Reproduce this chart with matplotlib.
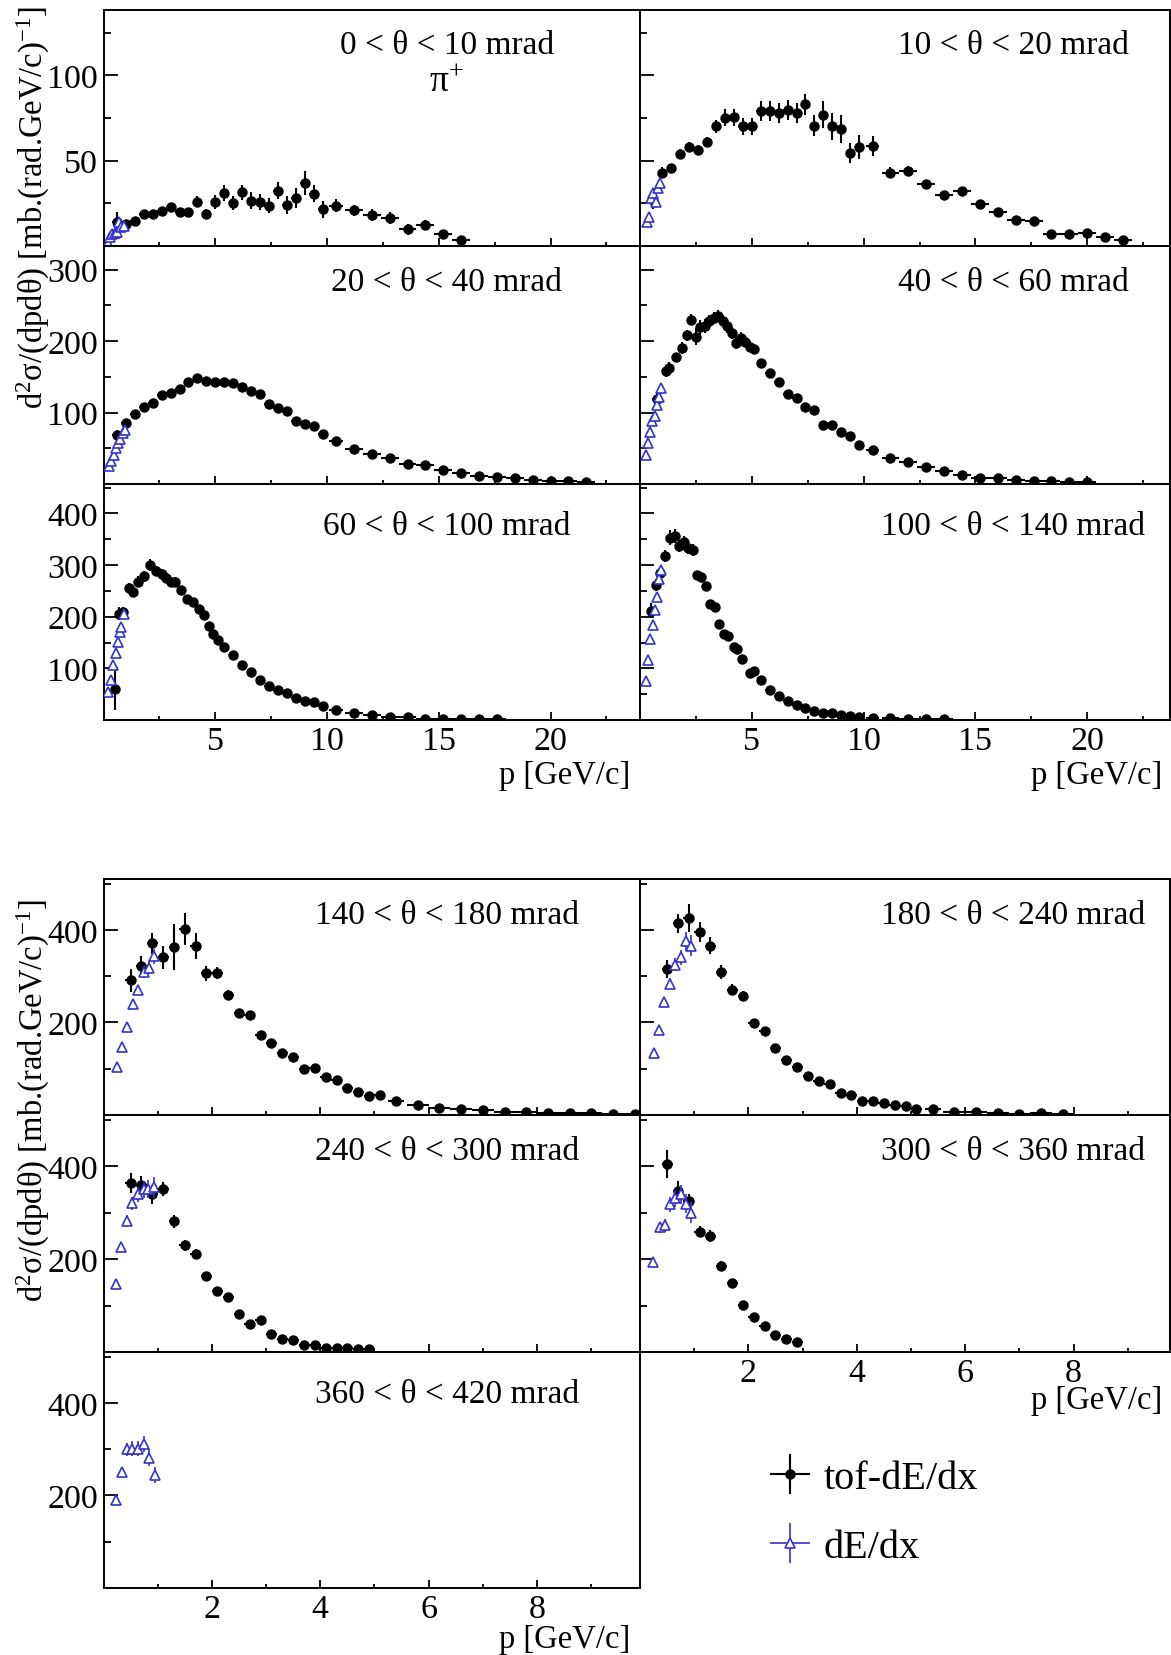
import numpy as np
import matplotlib
matplotlib.use("Agg")
import matplotlib.pyplot as plt
from matplotlib.ticker import FixedLocator

plt.rcParams["font.family"] = ["Liberation Serif", "DejaVu Serif"]
plt.rcParams["mathtext.fontset"] = "custom"
plt.rcParams["mathtext.rm"] = "Liberation Serif"
plt.rcParams["mathtext.it"] = "Liberation Serif:italic"
plt.rcParams["mathtext.bf"] = "Liberation Serif:bold"

BLUE = "#3333cc"

# ---- data: pi+ double-differential cross-section, tof-dE/dx and dE/dx analyses ----
# 0 < theta < 10 mrad
p_tof_0_10 = [0.6, 1.0, 1.4, 1.8, 2.2, 2.6, 3.0, 3.4, 3.8, 4.2, 4.6, 5.0, 5.4, 5.8, 6.2, 6.6,
              7.0, 7.4, 7.8, 8.2, 8.6, 9.0, 9.4, 9.8, 10.4, 11.2, 12.0, 12.8, 13.6, 14.4, 15.2, 16.0]
xs_tof_0_10 = [14, 13, 14.6, 18.9, 18.9, 20.4, 23, 19.8, 19.8, 26, 18.9, 25.7, 31, 25, 31.5, 26.5,
               25.7, 23.7, 32.5, 24, 28, 37, 30.5, 21.4, 23.7, 20.8, 17.9, 16.3, 9.7, 12.5, 6.8, 3.3]
err_tof_0_10 = [6, 2.5, 2, 2, 2, 2, 2, 2.5, 2.5, 3, 3, 4, 4.5, 4, 4.5, 5,
                4.5, 4.5, 5, 5, 6, 7, 5, 5, 4, 3.5, 3.5, 3.5, 3, 3, 2.5, 2]
p_dedx_0_10 = [0.2, 0.3, 0.4, 0.5, 0.6, 0.7, 0.8, 0.9]
xs_dedx_0_10 = [2, 5, 7, 7.5, 8, 14, 11, 12]
err_dedx_0_10 = [1, 1.5, 1.5, 1.5, 1.5, 2, 2, 2]

# 10 < theta < 20 mrad
p_tof_10_20 = [0.6, 1.0, 1.4, 1.8, 2.2, 2.6, 3.0, 3.4, 3.8, 4.2, 4.6, 5.0, 5.4, 5.8, 6.2, 6.6,
               7.0, 7.4, 7.8, 8.2, 8.6, 9.0, 9.4, 9.8, 10.4, 11.2, 12.0, 12.8, 13.6, 14.4, 15.2,
               16.0, 16.8, 17.6, 18.4, 19.2, 20.0, 20.8, 21.6]
xs_tof_10_20 = [26.7, 43, 45.5, 54, 58, 56, 61, 70, 75, 75.5, 70, 70, 79, 79, 78, 79.5,
                78, 83, 70.5, 77, 70, 68.5, 54.5, 58, 58.7, 43, 44, 36.4, 29.6, 32, 24.7,
                19.8, 15, 14.8, 7.2, 7.2, 7.6, 5, 3.5]
err_tof_10_20 = [5, 3, 2.5, 3, 3, 3, 3, 4, 5, 5, 5, 5, 6, 6, 6, 6,
                 6, 6, 6, 8, 8, 8, 6, 7, 6, 3, 3, 2.5, 2, 2, 2,
                 1.5, 1.5, 1.5, 1, 1, 1, 1, 1]
p_dedx_10_20 = [0.3, 0.4, 0.5, 0.6, 0.7, 0.8, 0.9]
xs_dedx_10_20 = [14, 17, 28, 31, 26, 34, 37]
err_dedx_10_20 = [1.5, 1.5, 2, 2, 2, 2, 2.5]

# 20 < theta < 40 mrad
p_tof_20_40 = [0.6, 1.0, 1.4, 1.8, 2.2, 2.6, 3.0, 3.4, 3.8, 4.2, 4.6, 5.0, 5.4, 5.8, 6.2, 6.6,
               7.0, 7.4, 7.8, 8.2, 8.6, 9.0, 9.4, 9.8, 10.4, 11.2, 12.0, 12.8, 13.6, 14.4, 15.2,
               16.0, 16.8, 17.6, 18.4, 19.2, 20.0, 20.8, 21.6]
xs_tof_20_40 = [69, 85, 97.5, 108, 114, 125, 128, 133.5, 143, 149, 144, 143, 143, 142, 136, 130,
                126.5, 112, 106, 101.5, 87.5, 84, 81, 70, 60, 49, 42, 36, 28, 27, 20,
                15.5, 11.7, 9.4, 8, 6, 4.7, 3.7, 2.3]
err_tof_20_40 = [6, 4, 3, 3, 3, 4, 4, 4, 5, 5, 4, 4, 4, 4, 4, 4,
                 4, 3, 3, 3, 3, 3, 3, 3, 3, 2, 2, 2, 1.5, 1.5, 1,
                 1, 1, 1, 1, 1, 1, 1, 1]
p_dedx_20_40 = [0.25, 0.35, 0.45, 0.55, 0.65, 0.75, 0.85, 0.95]
xs_dedx_20_40 = [25, 32, 40, 50, 57, 63, 72, 76]
err_dedx_20_40 = [2, 2, 2, 2.5, 2.5, 3, 3, 3]

# 40 < theta < 60 mrad
p_tof_40_60 = [0.75, 1.15, 1.3, 1.6, 1.9, 2.1, 2.3, 2.5, 2.7, 2.9, 3.1, 3.3, 3.5, 3.7, 3.9, 4.1,
               4.3, 4.5, 4.7, 4.9, 5.1, 5.4, 5.8, 6.2, 6.6, 7.0, 7.4, 7.8, 8.2, 8.6, 9.0, 9.4,
               9.8, 10.4, 11.2, 12.0, 12.8, 13.6, 14.4, 15.2, 16.0, 16.8, 17.6, 18.4, 19.2, 20.0]
xs_tof_40_60 = [119, 158, 162, 177, 190, 208, 230, 206, 219, 221.5, 228, 232, 235.6, 228, 221, 211,
                197, 204, 199, 192, 189, 169, 155.5, 143, 126.5, 120, 108, 104, 83, 82, 72.6, 67,
                54, 48, 36.5, 31.4, 23.4, 17.8, 13, 9, 8, 6, 4.7, 3.7, 2.3, 2.3]
err_tof_40_60 = [8, 8, 8, 6, 8, 8, 8, 12, 10, 10, 8, 8, 8, 8, 10, 8,
                 8, 8, 8, 8, 6, 5, 5, 4, 4, 4, 4, 4, 4, 3, 3, 3,
                 3, 3, 2, 2, 2, 1.5, 1, 1, 1, 1, 1, 1, 1, 1]
p_dedx_40_60 = [0.25, 0.35, 0.45, 0.55, 0.65, 0.75, 0.85, 0.95]
xs_dedx_40_60 = [40, 58, 73, 88, 95, 110, 122, 135]
err_dedx_40_60 = [3, 3, 4, 4, 4, 5, 5, 5]

# 60 < theta < 100 mrad
p_tof_60_100 = [0.5, 0.7, 0.85, 1.15, 1.3, 1.55, 1.8, 2.1, 2.35, 2.6, 2.8, 3.0, 3.2, 3.45, 3.75,
                4.0, 4.25, 4.5, 4.7, 4.9, 5.1, 5.4, 5.8, 6.2, 6.6, 7.0, 7.4, 7.8, 8.2, 8.6,
                9.0, 9.4, 9.8, 10.4, 11.2, 12.0, 12.8, 13.6, 14.4, 15.2, 16.0, 16.8, 17.6]
xs_tof_60_100 = [60, 206, 209, 255, 248, 268, 278, 300, 288, 282, 275, 267, 267, 252, 234,
                 229, 214, 203, 182, 167, 154, 140.5, 126, 107, 93, 78.4, 65, 59, 52, 42.5,
                 37, 34, 28, 19.6, 14.4, 9, 6.5, 5, 2.6, 1.3, 1.3, 1.3, 1.3]
err_tof_60_100 = [40, 12, 10, 10, 10, 10, 10, 12, 10, 10, 10, 10, 10, 8, 8,
                  8, 6, 6, 6, 5, 5, 5, 4, 4, 3, 3, 3, 3, 3, 2,
                  2, 2, 2, 2, 1.5, 1, 1, 1, 1, 1, 1, 1, 1]
p_dedx_60_100 = [0.22, 0.34, 0.43, 0.56, 0.65, 0.74, 0.8, 0.93]
xs_dedx_60_100 = [54, 78, 107, 129, 152, 170, 180, 206]
err_dedx_60_100 = [4, 5, 6, 6, 7, 7, 8, 8]

# 100 < theta < 140 mrad
p_tof_100_140 = [0.5, 0.7, 0.9, 1.1, 1.35, 1.55, 1.75, 1.95, 2.15, 2.35, 2.55, 2.75, 2.95, 3.15,
                 3.35, 3.55, 3.75, 3.95, 4.2, 4.35, 4.55, 4.9, 5.1, 5.4, 5.8, 6.2, 6.6, 7.0,
                 7.4, 7.8, 8.2, 8.6, 9.0, 9.4, 9.8, 10.4, 11.2, 12.0, 12.8, 13.6]
xs_tof_100_140 = [212, 261, 284, 317, 353, 356, 337, 345, 333, 329, 281, 276, 260, 225.5,
                  219, 186, 167, 163, 140.5, 137, 118, 91.5, 95, 78, 57.5, 46, 36, 29.4,
                  23, 18, 14.4, 13, 9.8, 7.2, 5.2, 3.9, 3.3, 2.6, 2, 2]
err_tof_100_140 = [15, 12, 12, 12, 14, 14, 12, 12, 12, 12, 8, 8, 8, 7,
                   7, 6, 6, 6, 5, 5, 5, 4, 4, 3, 3, 3, 2, 2,
                   2, 2, 1.5, 1.5, 1, 1, 1, 1, 1, 1, 1, 1]
p_dedx_100_140 = [0.28, 0.37, 0.46, 0.56, 0.65, 0.74, 0.87, 0.96]
xs_dedx_100_140 = [75, 116, 157, 183, 213, 238, 274, 290]
err_dedx_100_140 = [5, 6, 7, 8, 8, 9, 10, 10]

# 140 < theta < 180 mrad
p_tof_140_180 = [0.5, 0.7, 0.9, 1.1, 1.3, 1.5, 1.7, 1.9, 2.1, 2.3, 2.5, 2.7, 2.9, 3.1, 3.3, 3.5,
                 3.7, 3.9, 4.1, 4.3, 4.5, 4.7, 4.9, 5.1, 5.4, 5.8, 6.2, 6.6, 7.0, 7.4, 7.8,
                 8.2, 8.6, 9.0, 9.4, 9.8]
xs_tof_140_180 = [291, 323, 371, 341, 363, 402, 366, 306, 307, 260, 221, 217, 173, 156, 134, 125,
                  98.6, 100.7, 82, 75, 59, 50, 41, 44, 30.7, 21.4, 15.7, 12.9, 10, 7.1, 5.7,
                  5, 3.6, 3.6, 2.9, 2.9]
err_tof_140_180 = [25, 20, 22, 25, 50, 35, 28, 16, 13, 10, 8, 8, 7, 6, 6, 6,
                   5, 5, 4, 4, 4, 3, 3, 3, 2, 2, 2, 1.5, 1.5, 1, 1,
                   1, 1, 1, 1, 1]
p_dedx_140_180 = [0.24, 0.34, 0.44, 0.54, 0.64, 0.74, 0.84, 0.94]
xs_dedx_140_180 = [104, 146, 191, 239, 270, 309, 318, 343]
err_dedx_140_180 = [6, 8, 9, 10, 11, 12, 14, 16]

# 180 < theta < 240 mrad
p_tof_180_240 = [0.5, 0.7, 0.9, 1.1, 1.3, 1.5, 1.7, 1.9, 2.1, 2.3, 2.5, 2.7, 2.9, 3.1, 3.3, 3.5,
                 3.7, 3.9, 4.1, 4.3, 4.5, 4.7, 4.9, 5.1, 5.4, 5.8, 6.2, 6.6, 7.0, 7.4, 7.8]
xs_tof_180_240 = [316, 414, 425, 395, 366, 309, 271, 257, 198, 181, 145, 119, 104, 84, 73, 66,
                  48, 43, 30, 31, 26, 21, 19, 14, 13, 7, 5.7, 4.3, 2, 4.3, 2]
err_tof_180_240 = [20, 20, 30, 22, 18, 15, 12, 10, 7, 7, 6, 5, 5, 4, 4, 4,
                   3, 3, 3, 3, 2, 2, 2, 2, 1.5, 1, 1, 1, 1, 1, 1]
p_dedx_180_240 = [0.25, 0.35, 0.45, 0.55, 0.65, 0.75, 0.85, 0.95]
xs_dedx_180_240 = [134, 184, 244, 284, 325, 341, 375, 366]
err_dedx_180_240 = [7, 9, 10, 12, 14, 16, 20, 22]

# 240 < theta < 300 mrad
p_tof_240_300 = [0.5, 0.7, 0.9, 1.1, 1.3, 1.5, 1.7, 1.9, 2.1, 2.3, 2.5, 2.7, 2.9, 3.1, 3.3, 3.5,
                 3.7, 3.9, 4.1, 4.3, 4.5, 4.7, 4.9]
xs_tof_240_300 = [364, 359, 339, 351, 281, 230, 211, 163, 132, 118, 81, 61, 68, 39, 29, 26,
                  14, 14, 9, 9, 9, 6, 6]
err_tof_240_300 = [22, 20, 20, 15, 14, 12, 10, 9, 8, 7, 6, 5, 5, 4, 4, 3,
                   3, 3, 2, 2, 2, 2, 2]
p_dedx_240_300 = [0.23, 0.33, 0.43, 0.53, 0.64, 0.74, 0.83, 0.93]
xs_dedx_240_300 = [146, 225, 282, 320, 339, 350, 351, 354]
err_dedx_240_300 = [8, 10, 12, 14, 16, 18, 20, 22]

# 300 < theta < 360 mrad
p_tof_300_360 = [0.5, 0.7, 0.9, 1.1, 1.3, 1.5, 1.7, 1.9, 2.1, 2.3, 2.5, 2.7, 2.9]
xs_tof_300_360 = [404, 346, 325, 259, 249, 186, 149, 101, 76, 55, 37, 29, 21]
err_tof_300_360 = [30, 22, 16, 12, 13, 10, 9, 7, 6, 5, 4, 4, 4]
p_dedx_300_360 = [0.24, 0.36, 0.46, 0.56, 0.65, 0.76, 0.85, 0.95]
xs_dedx_300_360 = [193, 268, 273, 318, 331, 339, 319, 300]
err_dedx_300_360 = [10, 12, 14, 16, 18, 20, 20, 22]

# 360 < theta < 420 mrad (dE/dx only)
p_dedx_360_420 = [0.23, 0.34, 0.43, 0.53, 0.63, 0.74, 0.84, 0.95]
xs_dedx_360_420 = [191, 250, 300, 301, 301, 311, 282, 244]
err_dedx_360_420 = [10, 12, 14, 16, 16, 18, 18, 18]

# ---- layout (pixel boxes in a 1171 x 1656 canvas: left, top, right, bottom) ----
W, H = 1171, 1656
X_L, X_M, X_R = 103.5, 640, 1170
TOP_ROWS = [(10.5, 247), (247, 485), (485, 721)]
BOT_ROWS = [(880, 1116), (1116, 1353), (1353, 1589)]

TOP_YLIM = [138.5, 333, 457]
TOP_YMAJOR = [[50, 100], [100, 200, 300], [100, 200, 300, 400]]
TOP_YMINOR = [[25, 75, 125], [50, 150, 250], [50, 150, 250, 350, 450]]

TICK_FS = 24.5
LABEL_FS = 24
TITLE_FS = 23.5


def half_widths(p):
    # bin half-widths from the spacing of neighbouring bins
    p = np.asarray(p, float)
    if len(p) < 2:
        return np.full(len(p), 0.05)
    gaps = np.diff(p)
    left = np.r_[gaps[0], gaps]
    right = np.r_[gaps, gaps[-1]]
    return 0.5 * np.minimum(left, right)


fig = plt.figure(figsize=(W / 100, H / 100), dpi=100)


def make_axes(left, top, right, bottom):
    ax = fig.add_axes([left / W, 1 - bottom / H, (right - left) / W, (bottom - top) / H])
    for sp in ax.spines.values():
        sp.set_linewidth(1.4)
    ax.tick_params(which="both", direction="in", top=False, right=False, width=1.3,
                   labelsize=TICK_FS, pad=4)
    ax.tick_params(axis="y", which="major", length=10)
    ax.tick_params(axis="y", which="minor", length=5)
    ax.tick_params(axis="x", which="major", length=6)
    ax.tick_params(axis="x", which="minor", length=3)
    return ax


def draw(ax, p_tof, xs_tof, err_tof, p_dedx, xs_dedx, err_dedx):
    handles = []
    if p_tof is not None:
        h = ax.errorbar(p_tof, xs_tof, yerr=err_tof, xerr=half_widths(p_tof), fmt="o",
                        color="black", ms=6.5, elinewidth=1.5, capsize=0, zorder=3)
        handles.append(h)
    h = ax.errorbar(p_dedx, xs_dedx, yerr=err_dedx, xerr=half_widths(p_dedx), fmt="^",
                    color=BLUE, mfc="white", mec=BLUE, ms=7, mew=1.2, elinewidth=1.2,
                    capsize=0, zorder=4)
    handles.append(h)
    return handles


top_panels = [
    ("0 < θ < 10 mrad", p_tof_0_10, xs_tof_0_10, err_tof_0_10, p_dedx_0_10, xs_dedx_0_10, err_dedx_0_10),
    ("10 < θ < 20 mrad", p_tof_10_20, xs_tof_10_20, err_tof_10_20, p_dedx_10_20, xs_dedx_10_20, err_dedx_10_20),
    ("20 < θ < 40 mrad", p_tof_20_40, xs_tof_20_40, err_tof_20_40, p_dedx_20_40, xs_dedx_20_40, err_dedx_20_40),
    ("40 < θ < 60 mrad", p_tof_40_60, xs_tof_40_60, err_tof_40_60, p_dedx_40_60, xs_dedx_40_60, err_dedx_40_60),
    ("60 < θ < 100 mrad", p_tof_60_100, xs_tof_60_100, err_tof_60_100, p_dedx_60_100, xs_dedx_60_100, err_dedx_60_100),
    ("100 < θ < 140 mrad", p_tof_100_140, xs_tof_100_140, err_tof_100_140, p_dedx_100_140, xs_dedx_100_140, err_dedx_100_140),
]
bot_panels = [
    ("140 < θ < 180 mrad", p_tof_140_180, xs_tof_140_180, err_tof_140_180, p_dedx_140_180, xs_dedx_140_180, err_dedx_140_180),
    ("180 < θ < 240 mrad", p_tof_180_240, xs_tof_180_240, err_tof_180_240, p_dedx_180_240, xs_dedx_180_240, err_dedx_180_240),
    ("240 < θ < 300 mrad", p_tof_240_300, xs_tof_240_300, err_tof_240_300, p_dedx_240_300, xs_dedx_240_300, err_dedx_240_300),
    ("300 < θ < 360 mrad", p_tof_300_360, xs_tof_300_360, err_tof_300_360, p_dedx_300_360, xs_dedx_300_360, err_dedx_300_360),
    ("360 < θ < 420 mrad", None, None, None, p_dedx_360_420, xs_dedx_360_420, err_dedx_360_420),
]

LABEL_X = [0.64, 0.704]
LABEL_Y = [0.85, 0.85, 0.825]

legend_handles = None

# top block: 0-140 mrad, p up to ~24 GeV/c
for i, (label, *series) in enumerate(top_panels):
    row, col = divmod(i, 2)
    top, bottom = TOP_ROWS[row]
    left, right = (X_L, X_M) if col == 0 else (X_M, X_R)
    ax = make_axes(left, top, right, bottom)
    handles = draw(ax, *series)
    if legend_handles is None:
        legend_handles = handles
    ax.set_xlim(0, 24 if col == 0 else 23.7)
    ax.set_ylim(0, TOP_YLIM[row])
    ax.xaxis.set_major_locator(FixedLocator([5, 10, 15, 20]))
    ax.xaxis.set_minor_locator(FixedLocator([2.5, 7.5, 12.5, 17.5, 22.5]))
    ax.yaxis.set_major_locator(FixedLocator(TOP_YMAJOR[row]))
    ax.yaxis.set_minor_locator(FixedLocator(TOP_YMINOR[row]))
    if row < 2:
        ax.tick_params(axis="x", labelbottom=False)
    if col == 1:
        ax.tick_params(axis="y", labelleft=False)
    ax.text(LABEL_X[col], LABEL_Y[row], label, transform=ax.transAxes,
            ha="center", va="center", fontsize=LABEL_FS)
    if i == 0:
        ax.text(LABEL_X[col], 0.70, "π$^{+}$", transform=ax.transAxes,
                ha="center", va="center", fontsize=27)

# bottom block: 140-420 mrad, p up to ~10 GeV/c
for i, (label, *series) in enumerate(bot_panels):
    row, col = divmod(i, 2)
    top, bottom = BOT_ROWS[row]
    left, right = (X_L, X_M) if col == 0 else (X_M, X_R)
    ax = make_axes(left, top, right, bottom)
    draw(ax, *series)
    ax.set_xlim(0, 9.9 if col == 0 else 9.78)
    ax.set_ylim(0, 510)
    ax.xaxis.set_major_locator(FixedLocator([2, 4, 6, 8]))
    ax.xaxis.set_minor_locator(FixedLocator([1, 3, 5, 7, 9]))
    ax.yaxis.set_major_locator(FixedLocator([200, 400]))
    ax.yaxis.set_minor_locator(FixedLocator([100, 300, 500]))
    last_in_col = (col == 0 and row == 2) or (col == 1 and row == 1)
    if not last_in_col:
        ax.tick_params(axis="x", labelbottom=False)
    if col == 1:
        ax.tick_params(axis="y", labelleft=False)
    ax.text(LABEL_X[col], LABEL_Y[row], label, transform=ax.transAxes,
            ha="center", va="center", fontsize=LABEL_FS)

# axis titles
ylabel = "d$^{2}$σ/(dpdθ) [mb.(rad.GeV/c)$^{-1}$]"
fig.text(33 / W, 1 - 207 / H, ylabel, rotation=90, ha="center", va="center", fontsize=TITLE_FS)
fig.text(33 / W, 1 - 1100 / H, ylabel, rotation=90, ha="center", va="center", fontsize=TITLE_FS)

xlabel = "p [GeV/c]"
for xr, yc in [(630, 776), (1162, 776), (630, 1640), (1162, 1401)]:
    fig.text(xr / W, 1 - yc / H, xlabel, ha="right", va="center", fontsize=TITLE_FS)

fig.legend(legend_handles, ["tof-dE/dx", "dE/dx"], loc="center left",
           bbox_to_anchor=(769 / W, 1 - 1514 / H), frameon=False, fontsize=29,
           handlelength=1.05, handletextpad=0.3, labelspacing=0.8, borderpad=0,
           borderaxespad=0)

fig.savefig("out.png", dpi=100)
